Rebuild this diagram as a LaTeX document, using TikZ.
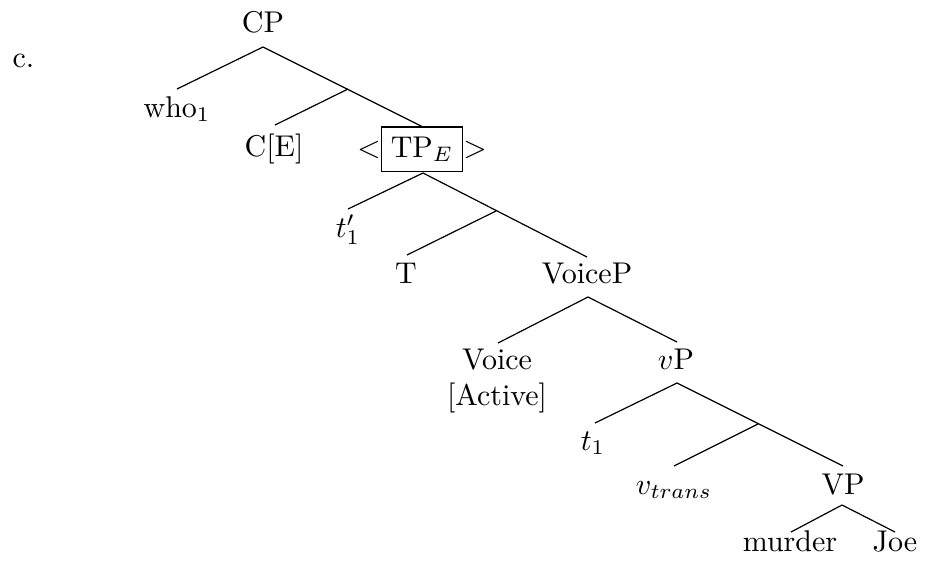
\documentclass[tikz,border=0pt]{standalone}
\begin{document}
\begin{tikzpicture}[x=0.3333pt,y=-0.3333pt,
  lbl/.style={anchor=base,inner sep=0pt},
  br/.style={line width=0.4pt}]
\useasboundingbox (0,0) rectangle (926,569);
% labels
\node[lbl,anchor=base west] (ex) at (12,67) {c.};
\node[lbl] (CP) at (263,32) {CP};
\node[lbl] (who) at (177,117) {who$_1$};
\node[lbl] (CE) at (274,156) {C[E]};
\node[lbl] (TP) at (422,157) {$<$\fbox{TP$_E$}$>$};
\node[lbl] (tp1) at (348,237) {$t'_1$};
\node[lbl] (T) at (406,283) {T};
\node[lbl] (VoiceP) at (587,283) {VoiceP};
\node[lbl,align=center] (Voice) at (497,405) {Voice\\{[Active]}};
\node[lbl] (vP) at (676,369) {$v$P};
\node[lbl] (t1) at (593,450) {$t_1$};
\node[lbl] (vtr) at (674,494) {$v_{trans}$};
\node[lbl] (VP) at (843,494) {VP};
\node[lbl] (murder) at (790,551) {murder};
\node[lbl] (Joe) at (895,551) {Joe};
% branching points
\coordinate (CPd) at (263,47);
\coordinate (Cbar) at (348,89);
\coordinate (TPd) at (423,173);
\coordinate (Tbar) at (496,211);
\coordinate (VoicePd) at (588,297);
\coordinate (vPd) at (677,383);
\coordinate (vbar) at (758,424);
\coordinate (VPd) at (842,505);
% top ends
\coordinate (whou) at (177,89);
\coordinate (CEu) at (275,125);
\coordinate (TPu) at (423,127);
\coordinate (tp1u) at (348,209);
\coordinate (Tu) at (407,255);
\coordinate (VoicePu) at (587,257);
\coordinate (Voiceu) at (498,343);
\coordinate (vPu) at (677,342);
\coordinate (t1u) at (595,423);
\coordinate (vtru) at (674,466);
\coordinate (VPu) at (843,466);
\coordinate (murderu) at (791,532);
\coordinate (Joeu) at (895,532);
% branches
\draw[br] (CPd) -- (whou);
\draw[br] (CPd) -- (TPu);
\draw[br] (Cbar) -- (CEu);
\draw[br] (TPd) -- (tp1u);
\draw[br] (TPd) -- (VoicePu);
\draw[br] (Tbar) -- (Tu);
\draw[br] (VoicePd) -- (Voiceu);
\draw[br] (VoicePd) -- (vPu);
\draw[br] (vPd) -- (t1u);
\draw[br] (vPd) -- (VPu);
\draw[br] (vbar) -- (vtru);
\draw[br] (VPd) -- (murderu);
\draw[br] (VPd) -- (Joeu);
\end{tikzpicture}
\end{document}
